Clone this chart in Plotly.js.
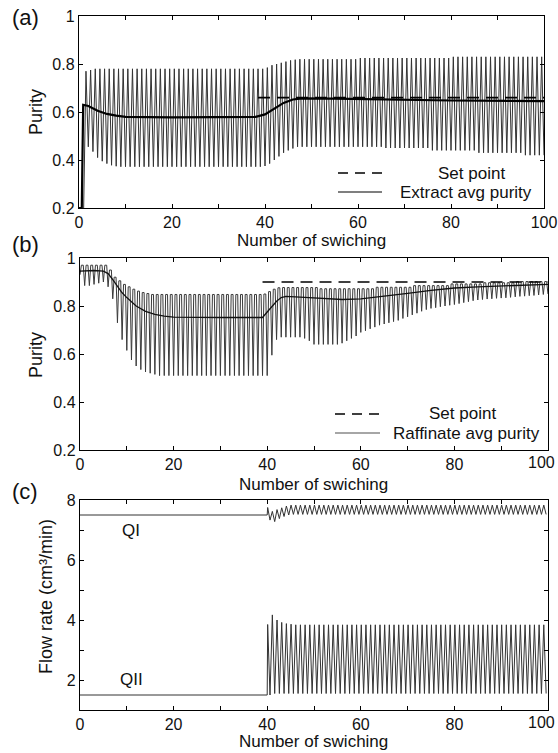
<!DOCTYPE html>
<html>
<head>
<meta charset="utf-8">
<script src="https://cdn.plot.ly/plotly-3.0.1.min.js"></script>
<style>html,body{margin:0;padding:0;background:#fff}#chart{width:558px;height:753px}</style>
</head>
<body>
<div id="chart"></div>
<script>
// ---------------- data ----------------
const X_TICKS = [0,10,20,30,40,50,60,70,80,90,100];
const X_TICKTEXT_A = ['0','','20','','40','','60','','80','','100'];
const X_TICKTEXT_BC = ['0','','20','','40','','60','','80','',''];
const X_LAST_LABEL = '100';
const PURITY_TICKS = [0.2,0.4,0.6,0.8,1];
const PURITY_TICKTEXT = ['0.2','0.4','0.6','0.8','1'];
const FLOW_TICKS = [1,2,3,4,5,6,7,8];
const FLOW_TICKTEXT = ['','2','','4','','6','','8'];

// (a) extract purity: troughs at switching 1..100, peaks half-way between
const A_START = 1, A_PERIOD = 1;
const A_BOT = [0.2,0.455,0.435,0.41,0.395,0.385,0.378,0.374,
 0.372,0.372,0.372,0.372,0.372,0.372,0.372,0.372,0.372,0.372,
 0.372,0.372,0.372,0.372,0.372,0.372,0.372,0.372,0.372,0.372,
 0.372,0.372,0.372,0.372,0.372,0.372,0.372,0.372,0.372,0.372,0.372,
 0.375,0.385,0.4,0.415,0.43,0.44,0.448,
 0.455,0.455,0.455,0.455,0.455,0.455,0.455,0.455,0.455,0.455,
 0.455,0.455,0.455,0.455,0.455,0.455,0.455,0.455,0.455,
 0.45,0.45,0.45,0.45,0.45,0.45,0.45,0.45,0.45,0.45,
 0.44,0.44,0.44,0.44,0.44,0.44,0.44,0.44,0.44,0.44,
 0.43,0.43,0.43,0.43,0.43,0.43,0.43,0.43,0.43,0.43,
 0.42,0.42,0.42,0.42,0.42];
const A_TOP = [0.77,0.775,
 0.78,0.78,0.78,0.78,0.78,0.78,0.78,0.78,0.78,0.78,
 0.78,0.78,0.78,0.78,0.78,0.78,0.78,0.78,0.78,0.78,
 0.78,0.78,0.78,0.78,0.78,0.78,0.78,0.78,0.78,0.78,
 0.78,0.78,0.78,0.78,0.78,0.78,0.78,
 0.785,0.795,0.8,0.805,0.81,0.815,0.818,
 0.82,0.82,0.82,0.82,0.82,0.82,0.82,0.82,0.82,0.82,0.82,0.82,0.82,
 0.825,0.825,0.825,0.825,0.825,0.825,0.825,0.825,0.825,0.825,
 0.825,0.825,0.825,0.825,0.825,0.825,0.825,0.825,0.825,0.825,
 0.83,0.83,0.83,0.83,0.83,0.83,0.83,0.83,0.83,0.83,
 0.83,0.83,0.83,0.83,0.83,0.83,0.83,0.83,0.83,0.83];
const A_AVG_X = [0,0.6,0.9,2,4,6,8,10,20,30,38,40,42,44,46,48,55,65,80,100];
const A_AVG_Y = [0.2,0.2,0.63,0.625,0.605,0.592,0.585,0.58,0.578,0.579,0.58,0.59,0.615,0.638,0.652,0.657,0.656,0.652,0.648,0.645];
const A_SET_X = [38.5,100];
const A_SET_Y = [0.66,0.66];

// (b) raffinate purity: dips at switching 0..100, plateau between
const B_START = 0, B_PERIOD = 1;
const B_BOT = [0.93,0.885,0.885,0.89,0.895,0.9,0.88,0.83,0.73,0.66,0.615,0.575,0.55,0.535,0.525,0.52,0.515,
 0.51,0.51,0.51,0.51,0.51,0.51,0.51,0.51,0.51,0.51,0.51,0.51,
 0.51,0.51,0.51,0.51,0.51,0.51,0.51,0.51,0.51,0.51,0.51,0.51,
 0.595,0.66,0.67,0.67,0.67,0.67,0.67,0.665,0.655,
 0.64,0.64,0.64,0.64,0.64,0.64,
 0.645,0.655,0.665,0.675,0.69,0.697,0.705,0.712,0.72,0.725,
 0.73,0.735,0.74,0.748,0.755,0.763,0.77,0.778,0.785,0.79,
 0.793,0.797,0.8,0.803,0.806,0.81,0.814,0.818,0.822,0.825,
 0.827,0.829,0.83,0.832,0.833,0.834,0.836,0.838,0.84,0.841,
 0.843,0.844,0.846,0.848,0.85];
const B_TOP = [0.97,0.97,0.97,0.97,0.97,0.97,0.95,0.92,0.905,0.89,0.88,0.87,0.862,0.856,0.852,
 0.848,0.848,0.848,0.848,0.848,0.848,0.848,0.848,0.848,0.848,0.848,0.848,
 0.848,0.848,0.848,0.848,0.848,0.848,0.848,0.848,0.848,0.848,0.848,0.848,
 0.85,0.86,0.87,0.876,
 0.877,0.877,0.877,0.877,0.877,0.877,0.877,0.877,
 0.872,0.872,0.872,0.872,0.872,0.872,0.872,0.872,0.872,0.872,0.872,0.872,
 0.878,0.878,0.878,0.878,0.878,0.878,0.878,0.878,
 0.885,0.885,0.885,0.885,0.885,0.885,0.885,0.885,
 0.892,0.892,0.892,0.892,0.892,0.892,0.892,
 0.897,0.897,0.897,0.897,0.897,0.897,0.897,
 0.902,0.902,0.902,0.902,0.902,0.902,0.902];
const B_AVG_X = [0,3,5,6,7,8,9,10,12,14,16,18,20,30,39,40,41,42,43,44,48,52,56,60,65,70,75,80,85,90,95,100];
const B_AVG_Y = [0.945,0.948,0.945,0.935,0.91,0.88,0.855,0.835,0.8,0.778,0.765,0.758,0.754,0.752,0.752,0.775,0.8,0.82,0.835,0.84,0.836,0.83,0.827,0.83,0.84,0.853,0.865,0.875,0.88,0.884,0.887,0.89];
const B_SET_X = [39,100];
const B_SET_Y = [0.9,0.9];

// (c) flow rates
const C_STEP = 40, C_PERIOD = 1;
const QI_BEFORE_X = [0,40], QI_BEFORE_Y = [7.5,7.5];
const QII_BEFORE_X = [0,40], QII_BEFORE_Y = [1.5,1.5];
const QI_TOP = [7.75,7.62,7.68,7.74,7.8,
 7.83,7.83,7.83,7.83,7.83,7.83,7.83,7.83,7.83,7.83,7.83,
 7.83,7.83,7.83,7.83,7.83,7.83,7.83,7.83,7.83,7.83,7.83,
 7.83,7.83,7.83,7.83,7.83,7.83,7.83,7.83,7.83,7.83,7.83,
 7.83,7.83,7.83,7.83,7.83,7.83,7.83,7.83,7.83,7.83,7.83,
 7.83,7.83,7.83,7.83,7.83,7.83,7.83,7.83,7.83,7.83,7.83];
const QI_BOT = [7.33,7.28,7.38,7.45,7.5,
 7.52,7.52,7.52,7.52,7.52,7.52,7.52,7.52,7.52,7.52,7.52,
 7.52,7.52,7.52,7.52,7.52,7.52,7.52,7.52,7.52,7.52,7.52,
 7.52,7.52,7.52,7.52,7.52,7.52,7.52,7.52,7.52,7.52,7.52,
 7.52,7.52,7.52,7.52,7.52,7.52,7.52,7.52,7.52,7.52,7.52,
 7.52,7.52,7.52,7.52,7.52,7.52,7.52,7.52,7.52,7.52,7.52];
const QII_TOP = [3.85,4.17,4.0,3.92,3.88,3.86,
 3.84,3.84,3.84,3.84,3.84,3.84,3.84,3.84,3.84,3.84,
 3.84,3.84,3.84,3.84,3.84,3.84,3.84,3.84,3.84,3.84,
 3.84,3.84,3.84,3.84,3.84,3.84,3.84,3.84,3.84,3.84,
 3.84,3.84,3.84,3.84,3.84,3.84,3.84,3.84,3.84,3.84,
 3.84,3.84,3.84,3.84,3.84,3.84,3.84,3.84,3.84,3.84,3.84,3.84,3.84,3.84];
const QII_BOT = [1.5,
 1.55,1.55,1.55,1.55,1.55,1.55,1.55,1.55,1.55,1.55,
 1.55,1.55,1.55,1.55,1.55,1.55,1.55,1.55,1.55,1.55,
 1.55,1.55,1.55,1.55,1.55,1.55,1.55,1.55,1.55,1.55,
 1.55,1.55,1.55,1.55,1.55,1.55,1.55,1.55,1.55,1.55,
 1.55,1.55,1.55,1.55,1.55,1.55,1.55,1.55,1.55,1.55,
 1.55,1.55,1.55,1.55,1.55,1.55,1.55,1.55,1.55];

// ---------------- build oscillating traces ----------------
function wave(x0, period, seq, preX, preY) {
  const xs = preX ? preX.slice() : [], ys = preY ? preY.slice() : [];
  const n = Math.max(...seq.map(s => s[0].length));
  for (let i = 0; i < n; i++) {
    for (const [arr, ph] of seq) {
      if (i < arr.length) { xs.push(x0 + (i + ph) * period); ys.push(arr[i]); }
    }
  }
  return {x: xs, y: ys};
}
const aW = wave(A_START, A_PERIOD, [[A_BOT,0],[A_TOP,0.5]]);
const bW = wave(B_START, B_PERIOD, [[B_BOT,0],[B_TOP,0.3],[B_TOP,0.7]]);
const qiW = wave(C_STEP, C_PERIOD, [[QI_TOP,0.1],[QI_BOT,0.6]], QI_BEFORE_X, QI_BEFORE_Y);
const qiiW = wave(C_STEP, C_PERIOD, [[QII_TOP,0.1],[QII_BOT,0.6]], QII_BEFORE_X, QII_BEFORE_Y);

const FONT = 'Liberation Sans, Arial, Helvetica, sans-serif';
const TXT = '#111';
const traces = [
  {x: aW.x, y: aW.y, xaxis:'x', yaxis:'y', mode:'lines', line:{color:'#333', width:1}, hoverinfo:'skip'},
  {x: A_AVG_X, y: A_AVG_Y, xaxis:'x', yaxis:'y', mode:'lines', line:{color:'#000', width:2.2}, name:'Extract avg purity'},
  {x: A_SET_X, y: A_SET_Y, xaxis:'x', yaxis:'y', mode:'lines', line:{color:'#000', width:1.6, dash:'12px,7px'}, name:'Set point'},
  {x: bW.x, y: bW.y, xaxis:'x2', yaxis:'y2', mode:'lines', line:{color:'#3a3a3a', width:1}, hoverinfo:'skip'},
  {x: B_AVG_X, y: B_AVG_Y, xaxis:'x2', yaxis:'y2', mode:'lines', line:{color:'#111', width:1.3}, name:'Raffinate avg purity'},
  {x: B_SET_X, y: B_SET_Y, xaxis:'x2', yaxis:'y2', mode:'lines', line:{color:'#000', width:1.6, dash:'12px,7px'}, name:'Set point'},
  {x: qiW.x, y: qiW.y, xaxis:'x3', yaxis:'y3', mode:'lines', line:{color:'#333', width:1}, name:'QI'},
  {x: qiiW.x, y: qiiW.y, xaxis:'x3', yaxis:'y3', mode:'lines', line:{color:'#333', width:1}, name:'QII'}
];

function xax(domain, anchor, tt) {
  return {domain: domain, anchor: anchor, range:[0,100], tickvals: X_TICKS, ticktext: tt,
    ticks:'inside', ticklen:4, tickcolor:'#000', showline:true, linecolor:'#000', linewidth:1.2,
    mirror:'allticks', showgrid:false, zeroline:false,
    tickfont:{family:FONT, size:16, color:TXT}};
}
function yax(domain, anchor, range, tv, tt) {
  return {domain: domain, anchor: anchor, range: range, tickvals: tv, ticktext: tt,
    ticks:'inside', ticklen:4, tickcolor:'#000', showline:true, linecolor:'#000', linewidth:1.2,
    mirror:'allticks', showgrid:false, zeroline:false,
    tickfont:{family:FONT, size:16, color:TXT}};
}
const W = 558, H = 753;
const px = v => v / W, py = v => 1 - v / H;
function note(x, y, text, size, extra) {
  return Object.assign({xref:'paper', yref:'paper', x:px(x), y:py(y), text:text, showarrow:false,
    xanchor:'center', yanchor:'middle', font:{family:FONT, size:size, color:TXT}}, extra || {});
}

const layout = {
  width: W, height: H, margin:{l:0,r:0,t:0,b:0}, paper_bgcolor:'#fff', plot_bgcolor:'#fff',
  showlegend:false, font:{family:FONT, color:TXT},
  xaxis: xax([px(79), px(544)], 'y', X_TICKTEXT_A),
  yaxis: yax([py(208), py(16)], 'x', [0.2,1], PURITY_TICKS, PURITY_TICKTEXT),
  xaxis2: xax([px(80), px(548)], 'y2', X_TICKTEXT_BC),
  yaxis2: yax([py(450), py(258)], 'x2', [0.2,1], PURITY_TICKS, PURITY_TICKTEXT),
  xaxis3: xax([px(80), px(548)], 'y3', X_TICKTEXT_BC),
  yaxis3: yax([py(710), py(500)], 'x3', [1,8], FLOW_TICKS, FLOW_TICKTEXT),
  shapes: [
    {type:'line', xref:'paper', yref:'paper', x0:px(338), x1:px(382), y0:py(173), y1:py(173), line:{color:'#000', width:1.6, dash:'10px,7px'}},
    {type:'line', xref:'paper', yref:'paper', x0:px(338), x1:px(382), y0:py(192), y1:py(192), line:{color:'#000', width:1.2}},
    {type:'line', xref:'paper', yref:'paper', x0:px(335), x1:px(380), y0:py(414), y1:py(414), line:{color:'#000', width:1.6, dash:'10px,7px'}},
    {type:'line', xref:'paper', yref:'paper', x0:px(335), x1:px(380), y0:py(433), y1:py(433), line:{color:'#888', width:1.3}}
  ],
  annotations: [
    note(25, 18, '(a)', 22), note(25, 245, '(b)', 22), note(25, 491, '(c)', 22),
    note(471, 173, 'Set point', 17), note(466, 192, 'Extract avg purity', 17),
    note(462, 414, 'Set point', 17), note(466, 433, 'Raffinate avg purity', 17),
    note(311, 241, 'Number of swiching', 17), note(313, 484, 'Number of swiching', 17), note(313, 741, 'Number of swiching', 17),
    note(36, 112, 'Purity', 18, {textangle:-90}), note(36, 355, 'Purity', 18, {textangle:-90}),
    note(46, 597, 'Flow rate (cm³/min)', 18, {textangle:-90}),
    note(557, 462, X_LAST_LABEL, 16, {xanchor:'right'}),
    note(557, 722, X_LAST_LABEL, 16, {xanchor:'right'}),
    {xref:'x3', yref:'y3', x:11, y:6.97, text:'QI', showarrow:false, font:{family:FONT, size:17, color:TXT}},
    {xref:'x3', yref:'y3', x:11, y:2.03, text:'QII', showarrow:false, font:{family:FONT, size:17, color:TXT}}
  ]
};
Plotly.newPlot('chart', traces, layout, {staticPlot:true, displayModeBar:false});
</script>
</body>
</html>
